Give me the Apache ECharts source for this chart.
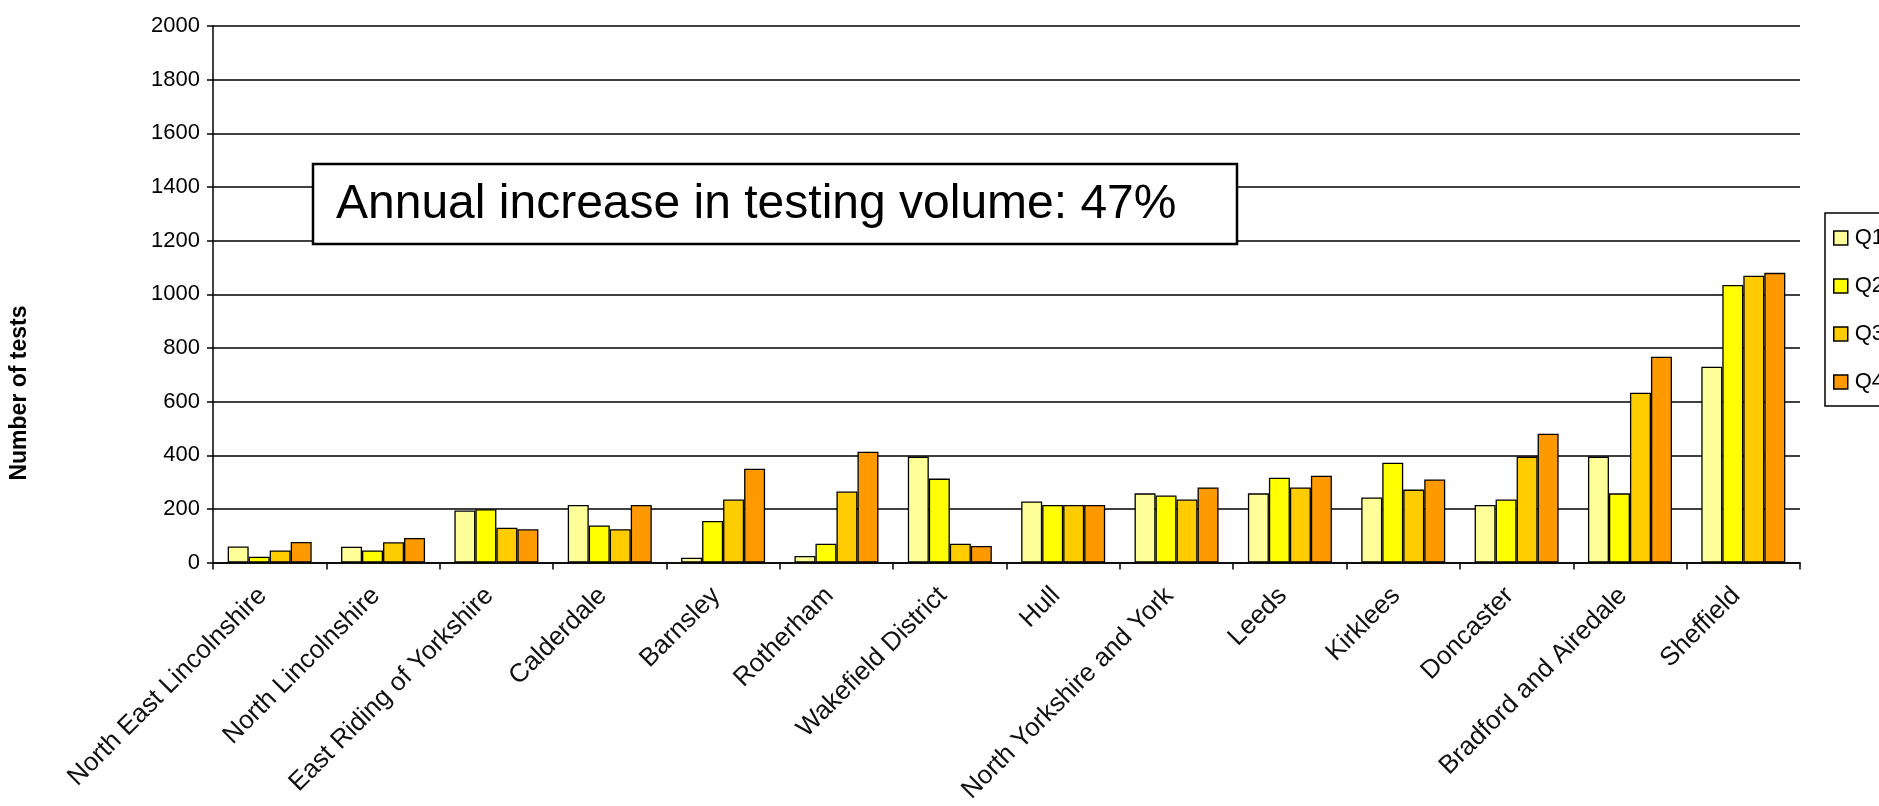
<!DOCTYPE html>
<html>
<head>
<meta charset="utf-8">
<script src="https://cdn.jsdelivr.net/npm/echarts@6/dist/echarts.min.js"></script>
<style>
html,body{margin:0;padding:0;background:#fff;}
#chart{width:1879px;height:806px;}
</style>
</head>
<body>
<div id="chart"></div>
<script>
const categories = [
  "North East Lincolnshire","North Lincolnshire","East Riding of Yorkshire","Calderdale",
  "Barnsley","Rotherham","Wakefield District","Hull","North Yorkshire and York",
  "Leeds","Kirklees","Doncaster","Bradford and Airedale","Sheffield"
];
const seriesNames = ["Q1","Q2","Q3","Q4"];
const q1 = [60, 59, 194, 215, 18, 25, 395, 228, 258, 258, 243, 215, 395, 730];
const q2 = [22, 45, 199, 138, 155, 70, 313, 215, 250, 316, 372, 235, 258, 1035];
const q3 = [45, 76, 130, 124, 235, 265, 70, 215, 235, 280, 272, 395, 633, 1069];
const q4 = [77, 92, 124, 215, 350, 413, 62, 215, 280, 324, 310, 480, 767, 1080];
const colors = ["#FFFF99","#FFFF00","#FFCC00","#FF9900"];
const yTicks = {min: 0, max: 2000, interval: 200};
const annotationText = "Annual increase in testing volume: 47%";
const yTitle = "Number of tests";

const values = [q1, q2, q3, q4];
const chart = echarts.init(document.getElementById('chart'));
const FONT = "'Liberation Sans', Arial, sans-serif";

chart.setOption({
  animation: false,
  backgroundColor: '#fff',
  grid: {left: 213, right: 79, top: 26, bottom: 243, containLabel: false},
  legend: {
    orient: 'vertical',
    left: 1825, top: 213,
    padding: [14, 40, 13, 8],
    itemWidth: 14, itemHeight: 14, itemGap: 26,
    borderColor: '#000', borderWidth: 1.5,
    icon: 'rect',
    itemStyle: {borderColor: '#000', borderWidth: 1.5},
    textStyle: {fontFamily: FONT, fontSize: 22, color: '#000', lineHeight: 14, padding: [0,0,0,2]},
    data: seriesNames
  },
  xAxis: {
    type: 'category',
    data: categories,
    axisLine: {lineStyle: {color: '#000', width: 1.5}},
    axisTick: {show: true, length: 7, lineStyle: {color: '#000', width: 1.5}},
    axisLabel: {rotate: 45, fontFamily: FONT, fontSize: 26, color: '#111', margin: 22, interval: 0,
                padding: [0, 10, 8, 0]}
  },
  yAxis: {
    type: 'value',
    min: yTicks.min, max: yTicks.max, interval: yTicks.interval,
    axisLine: {show: true, lineStyle: {color: '#000', width: 1.5}},
    axisTick: {show: true, length: 6, lineStyle: {color: '#000', width: 1.5}},
    axisLabel: {fontFamily: FONT, fontSize: 22, color: '#000', margin: 13,
                formatter: v => String(v)},
    splitLine: {show: true, lineStyle: {color: '#000', width: 1.5}}
  },
  series: seriesNames.map((n, i) => ({
    name: n,
    type: 'bar',
    data: values[i],
    barWidth: 21,
    barGap: '0%',
    itemStyle: {color: colors[i], borderColor: '#000', borderWidth: 1.3}
  })),
  graphic: [
    {
      type: 'rect',
      shape: {x: 313, y: 164, width: 924, height: 80},
      style: {fill: '#fff', stroke: '#000', lineWidth: 2.5},
      z: 100
    },
    {
      type: 'text',
      x: 336, y: 205,
      style: {text: annotationText, fontFamily: FONT, fontSize: 48, fill: '#000', verticalAlign: 'middle', align: 'left'},
      z: 101
    },
    {
      type: 'text',
      x: 20, y: 393,
      rotation: Math.PI / 2,
      style: {text: yTitle, fontFamily: FONT, fontSize: 23, fontWeight: 'bold', fill: '#000', align: 'center', verticalAlign: 'middle'},
      z: 101
    }
  ]
});
</script>
</body>
</html>
